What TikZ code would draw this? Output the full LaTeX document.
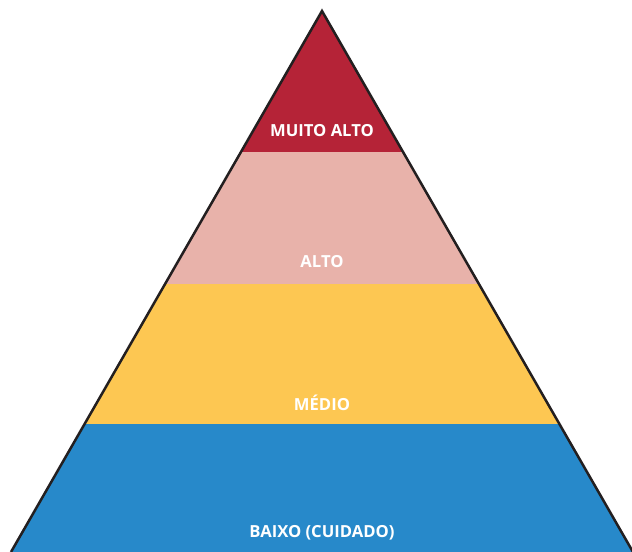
\documentclass[tikz,border=0pt]{standalone}
\usepackage{fontspec}
\setmainfont{Open Sans}
\usepackage{tikz}
\usetikzlibrary{calc}

\definecolor{muitoalto}{RGB}{181,35,55}
\definecolor{alto}{RGB}{232,178,170}
\definecolor{medio}{RGB}{253,199,82}
\definecolor{baixo}{RGB}{39,137,202}
\definecolor{contorno}{RGB}{35,31,32}

\begin{document}
\begin{tikzpicture}[
  x=1bp, y=-1bp,
  every node/.style={font=\bfseries\fontsize{16.7}{19}\selectfont, text=white, align=center},
  band/.style={draw=none}
]
\useasboundingbox (0,0) rectangle (632,552);

% corners of the pyramid
\coordinate (apex) at (322,11);
\coordinate (baseL) at (11,552);
\coordinate (baseR) at (633,552);

% coloured bands
\begin{scope}
  \clip (apex) -- (baseL) -- (baseR) -- cycle;
  \fill[muitoalto] (0,0) rectangle (632,152);
  \fill[alto] (0,152) rectangle (632,284);
  \fill[medio] (0,284) rectangle (632,424);
  \fill[baixo] (0,424) rectangle (632,560);
\end{scope}

% sides
\draw[contorno, line width=2.5bp, line join=miter] (baseL) -- (apex) -- (baseR);

% labels
\node (lblMuito) at (322,131) {MUITO ALTO};
\node (lblAlto) at (322,262) {ALTO};
\node (lblMedio) at (322,403) {MÉDIO};
\node (lblBaixo) at (322,533) {BAIXO (CUIDADO)};

\end{tikzpicture}
\end{document}
